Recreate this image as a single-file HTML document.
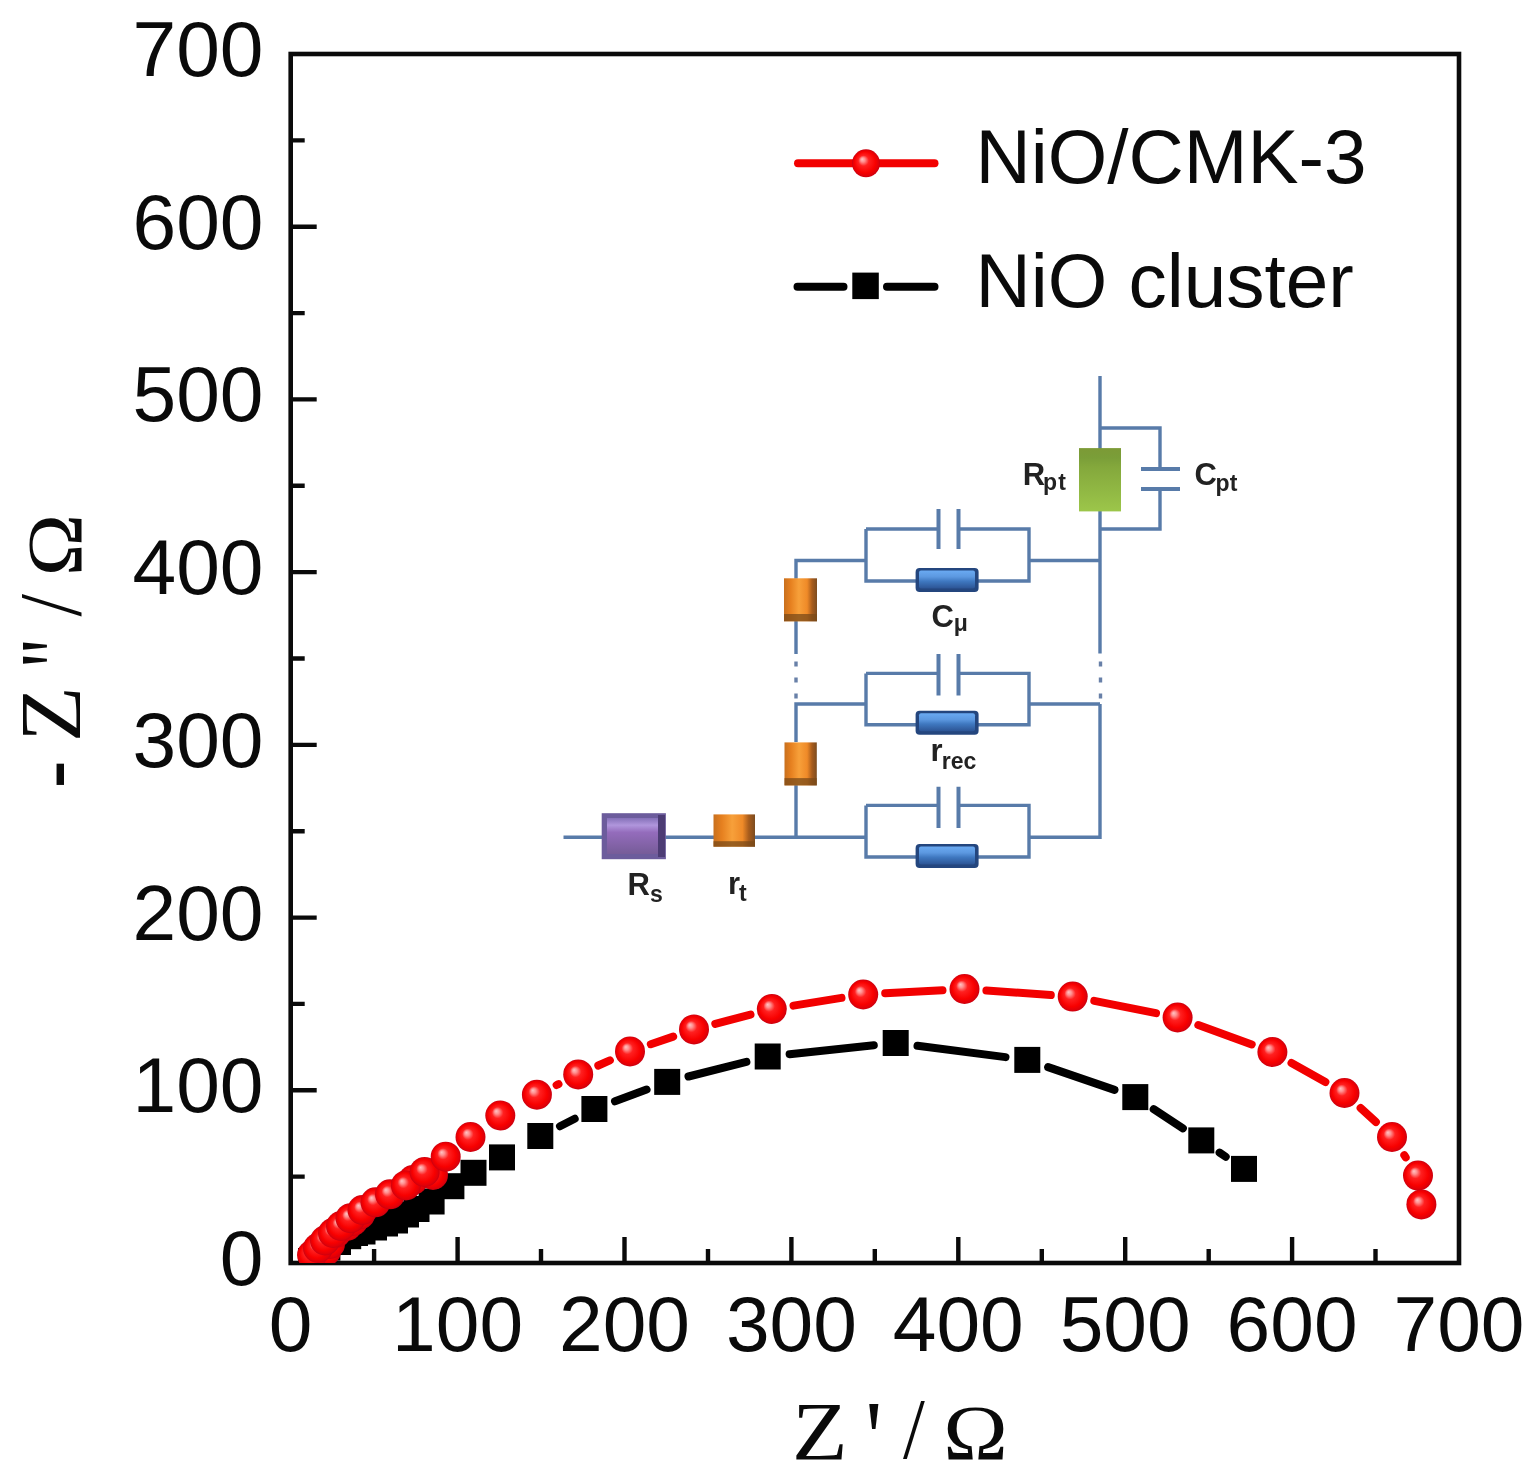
<!DOCTYPE html>
<html><head><meta charset="utf-8"><style>
html,body{margin:0;padding:0;background:#fff;}
body{width:1536px;height:1479px;overflow:hidden;}
svg{display:block;}
.tl{font-family:"Liberation Sans",Arial,sans-serif;font-size:78.5px;fill:#0a0a0a;}
.at{font-family:"Liberation Serif","Times New Roman",serif;font-size:100px;fill:#0a0a0a;}
.lg{font-family:"Liberation Sans",Arial,sans-serif;font-size:76.5px;fill:#0a0a0a;}
.cl{font-family:"Liberation Sans",Arial,sans-serif;font-size:31px;font-weight:bold;fill:#222;}
.sb{font-size:23px;}
</style></head><body>
<svg width="1536" height="1479" viewBox="0 0 1536 1479">
<rect x="290.7" y="54.0" width="1168.3" height="1209.0" fill="none" stroke="#0a0a0a" stroke-width="4.6"/>
<path d="M374.1 1263.0V1249.0M290.7 1176.6H304.7M457.6 1263.0V1237.0M290.7 1090.3H316.7M541.0 1263.0V1249.0M290.7 1003.9H304.7M624.5 1263.0V1237.0M290.7 917.6H316.7M708.0 1263.0V1249.0M290.7 831.2H304.7M791.4 1263.0V1237.0M290.7 744.9H316.7M874.8 1263.0V1249.0M290.7 658.5H304.7M958.3 1263.0V1237.0M290.7 572.1H316.7M1041.8 1263.0V1249.0M290.7 485.8H304.7M1125.2 1263.0V1237.0M290.7 399.4H316.7M1208.7 1263.0V1249.0M290.7 313.1H304.7M1292.1 1263.0V1237.0M290.7 226.7H316.7M1375.5 1263.0V1249.0M290.7 140.4H304.7" stroke="#0a0a0a" stroke-width="4.4" fill="none"/>
<text x="290.7" y="1350.5" text-anchor="middle" class="tl">0</text>
<text x="263.5" y="1285.0" text-anchor="end" class="tl">0</text>
<text x="457.6" y="1350.5" text-anchor="middle" class="tl">100</text>
<text x="263.5" y="1112.3" text-anchor="end" class="tl">100</text>
<text x="624.5" y="1350.5" text-anchor="middle" class="tl">200</text>
<text x="263.5" y="939.6" text-anchor="end" class="tl">200</text>
<text x="791.4" y="1350.5" text-anchor="middle" class="tl">300</text>
<text x="263.5" y="766.9" text-anchor="end" class="tl">300</text>
<text x="958.3" y="1350.5" text-anchor="middle" class="tl">400</text>
<text x="263.5" y="594.1" text-anchor="end" class="tl">400</text>
<text x="1125.2" y="1350.5" text-anchor="middle" class="tl">500</text>
<text x="263.5" y="421.4" text-anchor="end" class="tl">500</text>
<text x="1292.1" y="1350.5" text-anchor="middle" class="tl">600</text>
<text x="263.5" y="248.7" text-anchor="end" class="tl">600</text>
<text x="1459.0" y="1350.5" text-anchor="middle" class="tl">700</text>
<text x="263.5" y="76.0" text-anchor="end" class="tl">700</text>
<text transform="translate(791.94,1459.30) scale(0.9118,0.8277)" class="at">Z</text>
<text transform="translate(865.20,1473.56) scale(0.9500,1.0609)" class="at">&#39;</text>
<text transform="translate(903.00,1458.43) scale(0.7857,0.8697)" class="at">/</text>
<text transform="translate(943.36,1459.30) scale(0.8687,0.7892)" class="at">&#937;</text>
<text transform="rotate(-90) translate(-576.20,80.50) scale(0.8406,0.7877)" class="at">&#937;</text>
<text transform="rotate(-90) translate(-616.60,79.60) scale(0.8143,0.8985)" class="at">/</text>
<text transform="rotate(-90) translate(-668.43,89.90) scale(0.7552,1.0261)" class="at">&quot;</text>
<text transform="rotate(-90) translate(-742.07,80.10) scale(0.9137,0.8569)" class="at">Z</text>
<text transform="rotate(-90) translate(-787.88,83.71) scale(0.8192,0.9857)" class="at">-</text>
<defs><clipPath id="cp"><rect x="290.7" y="54.0" width="1168.3" height="1209.0"/></clipPath><radialGradient id="rg" cx="0.5" cy="0.5" r="0.5" fx="0.36" fy="0.35"><stop offset="0" stop-color="#ffc4c4"/><stop offset="0.16" stop-color="#ff9090"/><stop offset="0.38" stop-color="#ff2020"/><stop offset="0.75" stop-color="#f80000"/><stop offset="0.92" stop-color="#e00008"/><stop offset="1" stop-color="#c80010"/></radialGradient><linearGradient id="gb" x1="0" y1="0" x2="0" y2="1"><stop offset="0" stop-color="#6aaaf2"/><stop offset="0.35" stop-color="#5c98e0"/><stop offset="0.6" stop-color="#3f78c0"/><stop offset="1" stop-color="#2c5494"/></linearGradient><linearGradient id="go" x1="0" y1="0" x2="1" y2="0"><stop offset="0" stop-color="#c8701e"/><stop offset="0.2" stop-color="#e6801f"/><stop offset="0.45" stop-color="#f7a03a"/><stop offset="0.7" stop-color="#ef8a28"/><stop offset="0.85" stop-color="#a85c1c"/><stop offset="1" stop-color="#7c4c20"/></linearGradient><linearGradient id="gp" x1="0" y1="0" x2="0" y2="1"><stop offset="0" stop-color="#8470b8"/><stop offset="0.2" stop-color="#b096dc"/><stop offset="0.4" stop-color="#946cbc"/><stop offset="1" stop-color="#765c98"/></linearGradient><linearGradient id="gg" x1="0" y1="0" x2="0" y2="1"><stop offset="0" stop-color="#7c9a36"/><stop offset="0.15" stop-color="#7a9e38"/><stop offset="0.3" stop-color="#84a83c"/><stop offset="1" stop-color="#9cc64a"/></linearGradient></defs>
<g clip-path="url(#cp)">
<path d="M560.0 1126.2L574.7 1118.8M615.0 1101.3L646.6 1089.6M688.5 1076.5L746.4 1061.9M789.6 1054.2L873.8 1045.3M917.5 1045.8L1005.5 1057.1M1048.1 1067.1L1114.5 1089.9M1153.7 1109.2L1182.9 1128.3M1219.6 1152.6L1225.7 1156.7" fill="none" stroke="#000" stroke-width="8" stroke-linecap="round"/>
<rect x="298.0" y="1248.0" width="26" height="26" fill="#000"/>
<rect x="305.0" y="1242.0" width="26" height="26" fill="#000"/>
<rect x="314.4" y="1234.6" width="26" height="26" fill="#000"/>
<rect x="325.0" y="1229.0" width="26" height="26" fill="#000"/>
<rect x="335.2" y="1223.2" width="26" height="26" fill="#000"/>
<rect x="342.0" y="1220.0" width="26" height="26" fill="#000"/>
<rect x="349.5" y="1218.5" width="26" height="26" fill="#000"/>
<rect x="361.0" y="1214.5" width="26" height="26" fill="#000"/>
<rect x="372.0" y="1210.5" width="26" height="26" fill="#000"/>
<rect x="382.0" y="1207.5" width="26" height="26" fill="#000"/>
<rect x="393.0" y="1201.5" width="26" height="26" fill="#000"/>
<rect x="403.5" y="1196.0" width="26" height="26" fill="#000"/>
<rect x="418.6" y="1188.5" width="26" height="26" fill="#000"/>
<rect x="438.4" y="1173.2" width="26" height="26" fill="#000"/>
<rect x="460.5" y="1159.8" width="26" height="26" fill="#000"/>
<rect x="489.0" y="1144.4" width="26" height="26" fill="#000"/>
<rect x="527.3" y="1123.0" width="26" height="26" fill="#000"/>
<rect x="581.4" y="1096.0" width="26" height="26" fill="#000"/>
<rect x="654.2" y="1068.9" width="26" height="26" fill="#000"/>
<rect x="754.7" y="1043.5" width="26" height="26" fill="#000"/>
<rect x="882.7" y="1030.0" width="26" height="26" fill="#000"/>
<rect x="1014.3" y="1046.9" width="26" height="26" fill="#000"/>
<rect x="1122.3" y="1084.1" width="26" height="26" fill="#000"/>
<rect x="1188.3" y="1127.4" width="26" height="26" fill="#000"/>
<rect x="1231.0" y="1155.9" width="26" height="26" fill="#000"/>
<path d="M556.6 1085.0L558.5 1084.1M598.3 1065.5L609.9 1060.3M650.8 1044.2L673.2 1036.6M715.3 1023.8L750.5 1014.6M793.5 1005.6L841.5 997.9M885.2 993.3L942.5 990.2M986.4 990.5L1050.8 995.1M1094.3 1000.9L1156.0 1013.2M1198.3 1025.0L1251.7 1044.5M1291.5 1062.9L1325.4 1082.1M1360.6 1108.0L1375.9 1122.0M1404.3 1155.2L1405.7 1157.4" fill="none" stroke="#f20000" stroke-width="8" stroke-linecap="round"/>
<circle cx="318.0" cy="1260.0" r="15" fill="url(#rg)"/>
<circle cx="326.0" cy="1251.0" r="15" fill="url(#rg)"/>
<circle cx="330.0" cy="1244.0" r="15" fill="url(#rg)"/>
<circle cx="336.0" cy="1233.0" r="15" fill="url(#rg)"/>
<circle cx="347.0" cy="1226.0" r="15" fill="url(#rg)"/>
<circle cx="353.0" cy="1221.0" r="15" fill="url(#rg)"/>
<circle cx="360.0" cy="1214.5" r="15" fill="url(#rg)"/>
<circle cx="413.0" cy="1180.0" r="15" fill="url(#rg)"/>
<circle cx="433.0" cy="1175.0" r="15" fill="url(#rg)"/>
<circle cx="312.0" cy="1255.0" r="15" fill="url(#rg)"/>
<circle cx="318.0" cy="1248.0" r="15" fill="url(#rg)"/>
<circle cx="325.0" cy="1240.5" r="15" fill="url(#rg)"/>
<circle cx="333.0" cy="1233.0" r="15" fill="url(#rg)"/>
<circle cx="341.0" cy="1226.0" r="15" fill="url(#rg)"/>
<circle cx="350.5" cy="1218.2" r="15" fill="url(#rg)"/>
<circle cx="362.5" cy="1210.0" r="15" fill="url(#rg)"/>
<circle cx="375.5" cy="1202.3" r="15" fill="url(#rg)"/>
<circle cx="390.0" cy="1194.3" r="15" fill="url(#rg)"/>
<circle cx="405.9" cy="1185.4" r="15" fill="url(#rg)"/>
<circle cx="424.6" cy="1171.9" r="15" fill="url(#rg)"/>
<circle cx="445.7" cy="1156.7" r="15" fill="url(#rg)"/>
<circle cx="470.5" cy="1137.0" r="15" fill="url(#rg)"/>
<circle cx="500.3" cy="1115.5" r="15" fill="url(#rg)"/>
<circle cx="536.9" cy="1094.7" r="15" fill="url(#rg)"/>
<circle cx="578.2" cy="1074.4" r="15" fill="url(#rg)"/>
<circle cx="630.0" cy="1051.4" r="15" fill="url(#rg)"/>
<circle cx="694.0" cy="1029.4" r="15" fill="url(#rg)"/>
<circle cx="771.8" cy="1009.0" r="15" fill="url(#rg)"/>
<circle cx="863.2" cy="994.5" r="15" fill="url(#rg)"/>
<circle cx="964.5" cy="989.0" r="15" fill="url(#rg)"/>
<circle cx="1072.7" cy="996.6" r="15" fill="url(#rg)"/>
<circle cx="1177.6" cy="1017.5" r="15" fill="url(#rg)"/>
<circle cx="1272.4" cy="1052.0" r="15" fill="url(#rg)"/>
<circle cx="1344.5" cy="1093.0" r="15" fill="url(#rg)"/>
<circle cx="1392.0" cy="1137.0" r="15" fill="url(#rg)"/>
<circle cx="1418.0" cy="1175.6" r="15" fill="url(#rg)"/>
<circle cx="1421.4" cy="1204.4" r="15" fill="url(#rg)"/>
</g>
<path d="M798 163.3H934.5" stroke="#f20000" stroke-width="8" stroke-linecap="round"/>
<circle cx="866" cy="163.3" r="14" fill="url(#rg)"/>
<path d="M797.5 286.8H843.5M887 286.8H934.5" stroke="#000" stroke-width="8" stroke-linecap="round"/>
<rect x="852.3" y="272.6" width="26.5" height="26.5" fill="#000"/>
<text x="975.5" y="183" class="lg">NiO/CMK-3</text>
<text x="975.5" y="306.5" class="lg">NiO cluster</text>
<path d="M563.5 837.3H866M1029 837.3H1100V704 M1100 653.5V376M796 837.3V785 M796 742V704H866M796 654V620 M796 578.7V560.5H866M1029 704H1100M1029 560.5H1100M1100 428H1160V469 M1160 489V529H1100M866 529V581H916 M978 581H1029V529H958.5 M938.5 529H866M866 673.4V724.7H916 M978 724.7H1029V673.4H958.5 M938.5 673.4H866M866 805.4V857H916 M978 857H1029V805.4H958.5 M938.5 805.4H866" stroke="#587ba9" stroke-width="3.4" fill="none"/>
<path d="M796 661.5V666.5M796 677.5V682.5M796 693.5V698.5M1100.5 661.5V666.5M1100.5 677.5V682.5M1100.5 693.5V698.5" stroke="#6880a8" stroke-width="3.4" fill="none"/>
<path d="M938.5 509V549M958.5 509V549M938.5 654V695.5M958.5 654V695.5M938.5 786.7V828M958.5 786.7V828M1141 469H1180M1141 489H1180" stroke="#587ba9" stroke-width="4" fill="none"/>
<rect x="915.6" y="568.0" width="63" height="24" rx="4" fill="#24467e"/>
<rect x="919" y="570.5" width="56" height="18" rx="2" fill="url(#gb)"/>
<rect x="915.6" y="710.7" width="63" height="24" rx="4" fill="#24467e"/>
<rect x="919" y="713.2" width="56" height="18" rx="2" fill="url(#gb)"/>
<rect x="915.6" y="844.0" width="63" height="24" rx="4" fill="#24467e"/>
<rect x="919" y="846.5" width="56" height="18" rx="2" fill="url(#gb)"/>
<rect x="784" y="578.3" width="33.0" height="43.0" fill="url(#go)"/>
<rect x="784" y="614.0" width="33.0" height="7.3" fill="#7a4a18" opacity="0.75"/>
<rect x="784.5" y="742.4" width="32.3" height="43.0" fill="url(#go)"/>
<rect x="784.5" y="778.1" width="32.3" height="7.3" fill="#7a4a18" opacity="0.75"/>
<rect x="713.5" y="814.4" width="41.5" height="32.3" fill="url(#go)"/>
<rect x="713.5" y="841.2" width="41.5" height="5.5" fill="#7a4a18" opacity="0.75"/>
<rect x="601.7" y="813.2" width="64.2" height="46" fill="#6c5c9c"/>
<rect x="607" y="818" width="52" height="36" fill="url(#gp)"/>
<rect x="658" y="815" width="7" height="42" fill="#4c3c74"/>
<rect x="1079" y="448.1" width="42" height="63.3" fill="url(#gg)"/>
<text x="1022.7" y="484.5" class="cl">R<tspan class="sb" dx="-2" dy="5.5" letter-spacing="1">pt</tspan></text>
<text x="1194.5" y="484.5" class="cl">C<tspan class="sb" dx="-1.3" dy="6">pt</tspan></text>
<text x="931.4" y="627" class="cl">C<tspan class="sb" dy="4">&#956;</tspan></text>
<text x="930.4" y="761.3" class="cl">r<tspan class="sb" dx="-0.7" dy="7.7">rec</tspan></text>
<text x="627.5" y="894.5" class="cl">R<tspan class="sb" dy="7">s</tspan></text>
<text x="728" y="894" class="cl">r<tspan class="sb" dx="-1" dy="6.5">t</tspan></text>
</svg>
</body></html>
